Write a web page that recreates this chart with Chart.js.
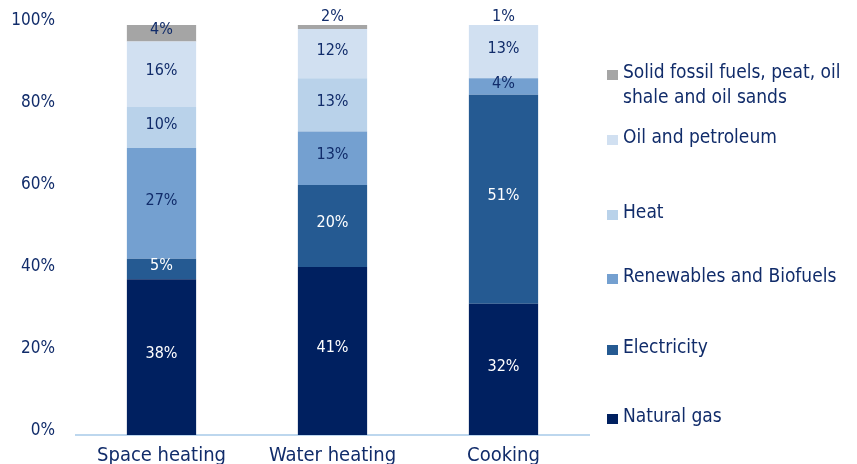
<!DOCTYPE html>
<html>
<head>
<meta charset="utf-8">
<script src="https://cdn.jsdelivr.net/npm/chart.js@4/dist/chart.umd.min.js"></script>
<style>
    html, body { margin: 0; padding: 0; background: #ffffff; }
    #wrap { position: relative; width: 857px; height: 464px; }
</style>
</head>
<body>
<div id="wrap"><canvas id="energyChart" width="857" height="464"></canvas></div>
<script>
// Household energy use by end use, share of each fuel (%)
const categories = ['Space heating', 'Water heating', 'Cooking'];
const naturalGas = [38, 41, 32];
const electricity = [5, 20, 51];
const renewables = [27, 13, 4];
const heat = [10, 13, 0];
const oilPetroleum = [16, 12, 13];
const solidFossil = [4, 2, 1];
const yTicks = [0, 20, 40, 60, 80, 100];

const FONT = '"DejaVu Sans Condensed", "DejaVu Sans", sans-serif';
const NAVY = '#112c6a';

const series = [
    { label: 'Natural gas', data: naturalGas, color: '#002060', textColor: '#ffffff' },
    { label: 'Electricity', data: electricity, color: '#255a92', textColor: '#ffffff' },
    { label: 'Renewables and Biofuels', data: renewables, color: '#74a0d0', textColor: NAVY },
    { label: 'Heat', data: heat, color: '#b9d2ea', textColor: NAVY },
    { label: 'Oil and petroleum', data: oilPetroleum, color: '#d1e0f1', textColor: NAVY },
    { label: 'Solid fossil fuels, peat, oil shale and oil sands', data: solidFossil, color: '#a5a5a5', textColor: NAVY }
];

// vertical centre of the first text line of each legend row, top row first
const legendRowY = [73, 138, 213, 277, 348, 417];

// percentage written in the middle of every segment
const segmentLabels = {
    id: 'segmentLabels',
    afterDatasetsDraw(chart) {
        const ctx = chart.ctx;
        ctx.save();
        ctx.font = '16px ' + FONT;
        ctx.textAlign = 'center';
        ctx.textBaseline = 'middle';
        chart.data.datasets.forEach((ds, i) => {
            const meta = chart.getDatasetMeta(i);
            meta.data.forEach((bar, j) => {
                const v = ds.data[j];
                if (!v) return;
                const { x, y, base } = bar.getProps(['x', 'y', 'base'], true);
                let ty = (y + base) / 2 - 3;
                let color = series[i].textColor;
                if (v < 3 && i === chart.data.datasets.length - 1) {
                    ty = y - 4;
                    color = NAVY;
                }
                ctx.fillStyle = color;
                ctx.fillText(v + '%', x, ty);
            });
        });
        ctx.restore();
    }
};

// legend on the right, spread down the plot height
const sideLegend = {
    id: 'sideLegend',
    afterDraw(chart) {
        const ctx = chart.ctx;
        const maxW = 232;
        ctx.save();
        ctx.font = '19px ' + FONT;
        ctx.textAlign = 'left';
        ctx.textBaseline = 'middle';
        const rows = [...chart.data.datasets].reverse();
        rows.forEach((ds, k) => {
            const cy = legendRowY[k];
            ctx.fillStyle = ds.backgroundColor;
            ctx.fillRect(607, cy - 3, 11, 10);

            // simple word wrap
            const words = ds.label.split(' ');
            const lines = [];
            let line = '';
            words.forEach(w => {
                const test = line ? line + ' ' + w : w;
                if (ctx.measureText(test).width > maxW && line) {
                    lines.push(line);
                    line = w;
                } else {
                    line = test;
                }
            });
            lines.push(line);

            ctx.fillStyle = NAVY;
            lines.forEach((t, n) => ctx.fillText(t, 623, cy + n * 25));
        });
        ctx.restore();
    }
};

new Chart(document.getElementById('energyChart'), {
    type: 'bar',
    data: {
        labels: categories,
        datasets: series.map(s => ({
            label: s.label,
            data: s.data,
            backgroundColor: s.color,
            borderWidth: 0,
            barPercentage: 0.405,
            categoryPercentage: 1
        }))
    },
    options: {
        responsive: false,
        animation: false,
        layout: { padding: { top: 25, right: 268, bottom: 0, left: 0 } },
        plugins: {
            legend: { display: false },
            tooltip: { enabled: false }
        },
        scales: {
            x: {
                stacked: true,
                grid: { display: false },
                border: { display: true, color: '#bdd7ee', width: 2 },
                ticks: {
                    color: NAVY,
                    font: { family: FONT, size: 20 },
                    padding: 1,
                    maxRotation: 0
                },
                afterFit(scale) { scale.height = 29; }
            },
            y: {
                stacked: true,
                min: 0,
                max: 100,
                grid: { display: false },
                border: { display: false },
                afterBuildTicks(scale) {
                    scale.ticks = yTicks.map(v => ({ value: v }));
                },
                ticks: {
                    color: NAVY,
                    font: { family: FONT, size: 17 },
                    padding: 13,
                    labelOffset: -4,
                    callback: v => v + '%'
                },
                afterFit(scale) { scale.width = 76; }
            }
        }
    },
    plugins: [segmentLabels, sideLegend]
});
</script>
</body>
</html>
